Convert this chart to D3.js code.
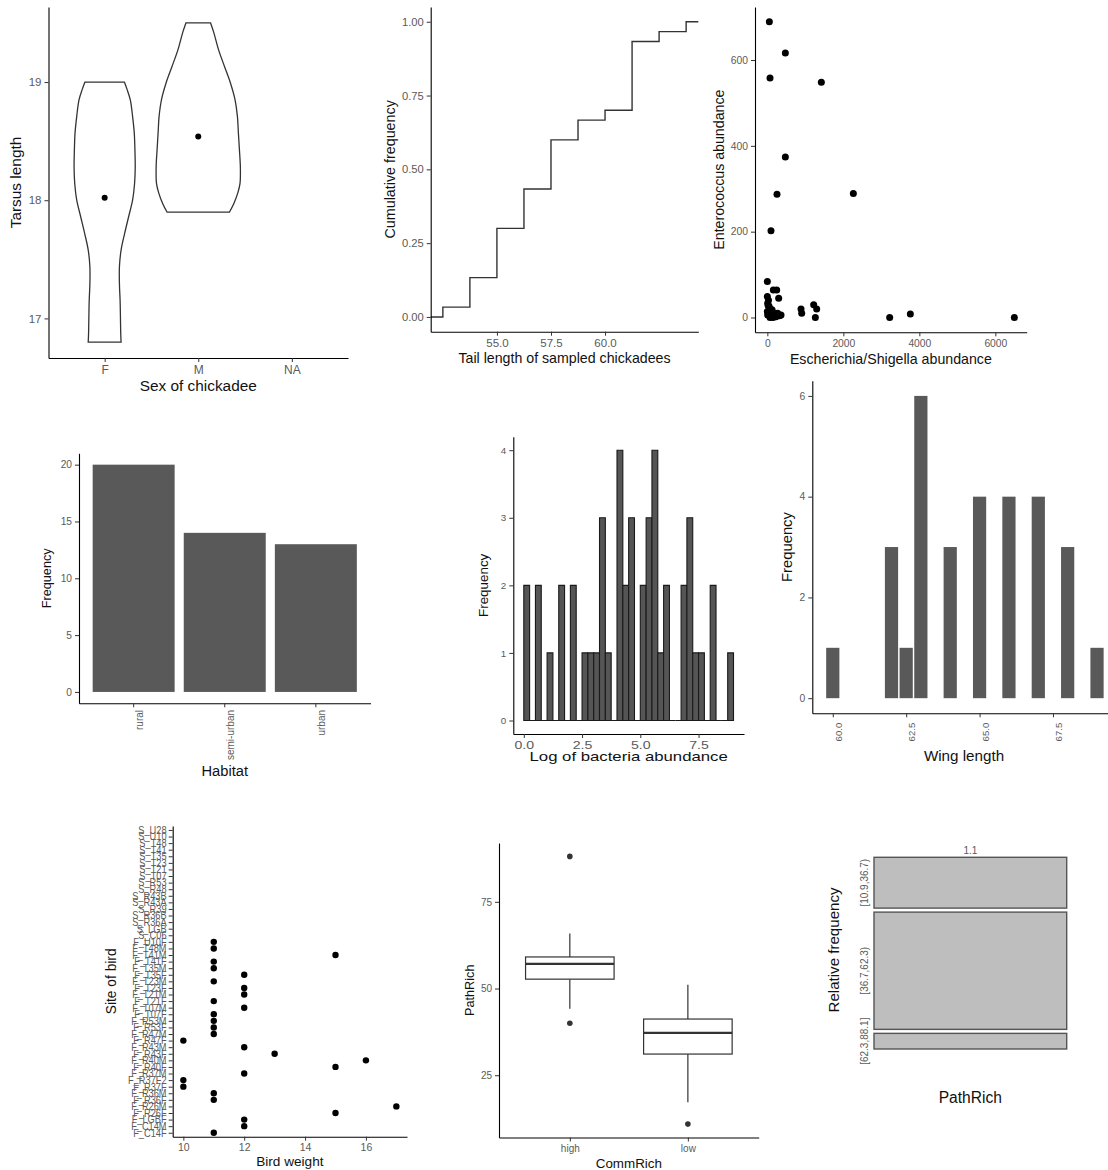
<!DOCTYPE html>
<html>
<head>
<meta charset="utf-8">
<script src="https://cdn.jsdelivr.net/npm/d3@7"></script>
<style>
  body { margin: 0; background: #fff; }
  svg { display: block; font-family: "Liberation Sans", Arial, Helvetica, sans-serif; }
  .axis path.domain { stroke: #000; stroke-width: 1.1; }
  .axis line { stroke: #333; stroke-width: 1; }
  .axis text { fill: #5a5a5a; }
  .title { fill: #111; }
</style>
</head>
<body>
<script>
// ---------- Tarsus length by sex (violin + mean) ----------
const sexLevels = ["F", "M", "NA"];
// [tarsus length, relative density]
const tarsusDensityF = [[16.80,0.39],[16.87,0.382],[17.01,0.375],[17.15,0.367],[17.29,0.351],[17.44,0.351],[17.58,0.391],[17.72,0.475],[17.86,0.569],[18.00,0.663],[18.14,0.710],[18.28,0.726],[18.42,0.719],[18.57,0.703],[18.71,0.663],[18.85,0.609],[18.94,0.53],[19.00,0.468]];
const tarsusDensityM = [[17.90,0.742],[17.97,0.843],[18.06,0.937],[18.14,0.991],[18.28,1.0],[18.43,0.977],[18.57,0.953],[18.71,0.930],[18.85,0.874],[18.99,0.766],[19.13,0.625],[19.27,0.485],[19.42,0.368],[19.50,0.293]];
const tarsusMean = [18.02, 18.54];

// ---------- Tail length ECDF ----------
const tailLength = [52.5, 53.75, 55, 56.25, 57.5, 58.75, 60, 61.25, 62.5, 63.75];
const tailCount  = [1, 3, 5, 4, 5, 2, 1, 7, 1, 1];

// ---------- Escherichia/Shigella vs Enterococcus ----------
const escherichia  = [53, 474, 70, 1421, 474, 254, 2263, 96, 0, 158, 246, 298, 0, 9, 53, 96, 184, 9, 360, 228, 70, 0, 123, 316, 30, 140, 200, 886, 904, 1219, 1298, 1263, 3219, 3763, 6500, 20, 60, 110, 150, 45, 270, 330];
const enterococcus = [689, 616, 558, 548, 374, 287, 289, 202, 84, 64, 64, 45, 49, 33, 22, 10, 6, 6, 6, 2, 0, 14, 18, 4, 40, 12, 8, 20, 10, 30, 20, 0, 0, 8, 0, 28, 4, 2, 0, 26, 10, 5];

// ---------- Habitat counts ----------
const habitats = ["rural", "semi-urban", "urban"];
const habitatCount = [20, 14, 13];

// ---------- Log bacteria abundance histogram (bin width 0.25 from 0) ----------
const logBinWidth = 0.25;
const logBinCount = [2,0,2,0,1,0,2,0,2,0,1,1,1,3,1,0,4,2,3,0,2,3,4,1,2,0,0,2,3,1,1,0,2,0,0,1];

// ---------- Wing length counts ----------
const wingLength = [60, 62, 62.5, 63, 64, 65, 66, 67, 68, 69];
const wingCount  = [1, 3, 1, 6, 3, 4, 4, 4, 3, 1];

// ---------- Bird weight by site ----------
const sites = ["F_C14F","F_C14M","F_LGBF","F_R26F","F_R26M","F_R36F","F_R36M","F_R37F","F_R37F2","F_R37M",
  "F_R40F","F_R40M","F_R43F","F_R43M","F_R47F","F_R47M","F_R53F","F_R53M","F_T07F","F_T07M",
  "F_T21F","F_T21M","F_T23F","F_T23M","F_T35F","F_T35M","F_T41F","F_T41M","F_T48M","F_U10F",
  "S_C06","S_LGB","S_R36A","S_R36B","S_R39","S_R43A","S_R43B","S_R48","S_R53","S_T07",
  "S_T21","S_T23","S_T35","S_T41","S_T48","S_U10","S_U28"];
const birdWeight = [11,12,12,15,17,11,11,10,10,12,15,16,13,12,10,11,11,11,11,12,11,12,12,11,12,11,11,15,11,11];

// ---------- PathRich by CommRich (boxplot stats) ----------
const commRich = ["high", "low"];
const pathQ1 = [52.7, 31.1];
const pathMedian = [57.1, 37.2];
const pathQ3 = [59.1, 41.2];
const pathWhiskerLo = [44.2, 17.2];
const pathWhiskerHi = [65.9, 51.1];
const pathOutliers = [[88.1, 40.0], [10.9]];

// ---------- PathRich class frequencies ----------
const pathRichBins = ["[10.9,36.7)", "[36.7,62.3)", "[62.3,88.1]"];
const pathRichCount = [13, 30, 4];

// =====================================================
const W = 1108, H = 1170;
const svg = d3.select("body").append("svg").attr("width", W).attr("height", H);

const expand = (ext, m = 0.05) => { const d = (ext[1] - ext[0]) * m; return [ext[0] - d, ext[1] + d]; };

function axisLeft(x0, scale, ticks, size, fmt) {
  const a = d3.axisLeft(scale).tickSize(4).tickPadding(3).tickSizeOuter(0);
  if (ticks) a.tickValues(ticks);
  if (fmt) a.tickFormat(fmt);
  const g = svg.append("g").attr("class", "axis").attr("transform", `translate(${x0},0)`).call(a);
  g.attr("font-family", null).attr("font-size", size);
  return g;
}
function axisBottom(y0, scale, ticks, size, fmt) {
  const a = d3.axisBottom(scale).tickSize(4).tickPadding(3).tickSizeOuter(0);
  if (ticks) a.tickValues(ticks);
  if (fmt) a.tickFormat(fmt);
  const g = svg.append("g").attr("class", "axis").attr("transform", `translate(0,${y0})`).call(a);
  g.attr("font-family", null).attr("font-size", size);
  return g;
}
function hTitle(text, x, y, size, sx = 1) {
  svg.append("text").attr("class", "title")
    .attr("transform", `translate(${x},${y}) scale(${sx},1)`)
    .attr("text-anchor", "middle").attr("font-size", size).text(text);
}
function vTitle(text, x, y, size) {
  svg.append("text").attr("class", "title")
    .attr("transform", `translate(${x},${y}) rotate(-90)`)
    .attr("text-anchor", "middle").attr("font-size", size).text(text);
}

// ---------- Panel: violin ----------
{
  const p = { l: 48.5, r: 348, t: 7, b: 358 };
  const x = d3.scalePoint().domain(sexLevels).range([p.l, p.r]).padding(0.6);
  const allV = tarsusDensityF.concat(tarsusDensityM).map(d => d[0]);
  const y = d3.scaleLinear().domain(expand(d3.extent(allV))).range([p.b, p.t]);
  const w = d3.scaleLinear().domain([0, 1]).range([0, 0.45 * x.step()]);
  [tarsusDensityF, tarsusDensityM].forEach((dens, i) => {
    const cx = x(sexLevels[i]);
    const area = d3.area().curve(d3.curveCatmullRom)
      .y(d => y(d[0])).x0(d => cx - w(d[1])).x1(d => cx + w(d[1]));
    svg.append("path").attr("d", area(dens)).attr("fill", "#fff")
      .attr("stroke", "#333").attr("stroke-width", 1.3);
    svg.append("circle").attr("cx", cx).attr("cy", y(tarsusMean[i])).attr("r", 3).attr("fill", "#000");
  });
  axisLeft(p.l, y, [17, 18, 19], 11.5, d3.format("d"));
  axisBottom(p.b, x, null, 12);
  vTitle("Tarsus length", 21.3, (p.t + p.b) / 2, 15.4);
  hTitle("Sex of chickadee", (p.l + p.r) / 2, 391, 15.4);
}

// ---------- Panel: ECDF ----------
{
  const p = { l: 430.7, r: 698.3, t: 7, b: 331.7 };
  const x = d3.scaleLinear().domain(expand(d3.extent(tailLength))).range([p.l, p.r]);
  const y = d3.scaleLinear().domain(expand([0, 1])).range([p.b, p.t]);
  const cum = Array.from(d3.cumsum(tailCount));
  const n = cum[cum.length - 1];
  const pts = [[x.domain()[0], 0]].concat(tailLength.map((v, i) => [v, cum[i] / n]), [[x.domain()[1], 1]]);
  const line = d3.line().curve(d3.curveStepAfter).x(d => x(d[0])).y(d => y(d[1]));
  svg.append("path").attr("d", line(pts)).attr("fill", "none").attr("stroke", "#333").attr("stroke-width", 1.4);
  axisLeft(p.l, y, [0, 0.25, 0.5, 0.75, 1], 11.2, d3.format(".2f"));
  axisBottom(p.b, x, [55, 57.5, 60], 11.5, d3.format(".1f"));
  vTitle("Cumulative frequency", 395.3, (p.t + p.b) / 2, 14.3);
  hTitle("Tail length of sampled chickadees", (p.l + p.r) / 2, 362.5, 14.2);
}

// ---------- Panel: scatter ----------
{
  const p = { l: 755, r: 1026.7, t: 7, b: 332.3 };
  const x = d3.scaleLinear().domain(expand(d3.extent(escherichia))).range([p.l, p.r]);
  const y = d3.scaleLinear().domain(expand(d3.extent(enterococcus))).range([p.b, p.t]);
  svg.append("g").selectAll("circle").data(escherichia).join("circle")
    .attr("cx", d => x(d)).attr("cy", (d, i) => y(enterococcus[i])).attr("r", 3.5).attr("fill", "#000");
  axisLeft(p.l, y, [0, 200, 400, 600], 10.3, d3.format("d"));
  axisBottom(p.b, x, [0, 2000, 4000, 6000], 10.3, d3.format("d"));
  vTitle("Enterococcus abundance", 723.5, (p.t + p.b) / 2, 14.2);
  hTitle("Escherichia/Shigella abundance", (p.l + p.r) / 2, 364, 14.2);
}

// ---------- Panel: habitat bars ----------
{
  const p = { l: 79, r: 370.5, t: 453.3, b: 703.3 };
  const x = d3.scaleBand().domain(habitats).range([p.l, p.r]).paddingInner(0.1).paddingOuter(0.15);
  const y = d3.scaleLinear().domain(expand([0, d3.max(habitatCount)])).range([p.b, p.t]);
  svg.append("g").selectAll("rect").data(habitats).join("rect")
    .attr("x", d => x(d)).attr("width", x.bandwidth())
    .attr("y", (d, i) => y(habitatCount[i])).attr("height", (d, i) => y(0) - y(habitatCount[i]))
    .attr("fill", "#595959");
  axisLeft(p.l, y, [0, 5, 10, 15, 20], 10.2, d3.format("d"));
  const gx = axisBottom(p.b, x, null, 10);
  gx.selectAll("text").attr("transform", "rotate(-90)").attr("text-anchor", "end")
    .attr("x", -6.7).attr("y", 9).attr("dy", null);
  vTitle("Frequency", 50.8, (p.t + p.b) / 2, 12.7);
  hTitle("Habitat", (p.l + p.r) / 2, 775.5, 14.7);
}

// ---------- Panel: log abundance histogram ----------
{
  const p = { l: 513.3, r: 744, t: 436.7, b: 734 };
  const bins = logBinCount.map((c, i) => ({ x0: i * logBinWidth, x1: (i + 1) * logBinWidth, c }));
  const x = d3.scaleLinear().domain(expand([0, bins[bins.length - 1].x1])).range([p.l, p.r]);
  const y = d3.scaleLinear().domain(expand([0, d3.max(logBinCount)])).range([p.b, p.t]);
  svg.append("g").selectAll("path").data(bins).join("path")
    .attr("d", d => `M${x(d.x0)},${y(0)}V${y(d.c)}H${x(d.x1)}V${y(0)}Z`)
    .attr("fill", "#555").attr("stroke", "#1a1a1a").attr("stroke-width", 1.1);
  axisLeft(p.l, y, [0, 1, 2, 3, 4], 9.8, d3.format("d"));
  const gx = axisBottom(p.b, x, [0, 2.5, 5, 7.5], 11.3, d3.format(".1f"));
  gx.selectAll("text").attr("transform", "scale(1.25,1)");
  vTitle("Frequency", 487.9, (p.t + p.b) / 2, 13.4);
  hTitle("Log of bacteria abundance", (p.l + p.r) / 2, 761.3, 13.4, 1.25);
}

// ---------- Panel: wing length bars ----------
{
  const p = { l: 812.3, r: 1117.5, t: 380.8, b: 713.3 };
  const half = 0.45 / 2;
  const x = d3.scaleLinear().domain(expand([d3.min(wingLength) - half, d3.max(wingLength) + half])).range([p.l, p.r]);
  const y = d3.scaleLinear().domain(expand([0, d3.max(wingCount)])).range([p.b, p.t]);
  svg.append("g").selectAll("rect").data(wingLength).join("rect")
    .attr("x", d => x(d - half)).attr("width", d => x(d + half) - x(d - half))
    .attr("y", (d, i) => y(wingCount[i])).attr("height", (d, i) => y(0) - y(wingCount[i]))
    .attr("fill", "#595959");
  axisLeft(p.l, y, [0, 2, 4, 6], 10.3, d3.format("d"));
  const gx = axisBottom(p.b, x, [60, 62.5, 65, 67.5], 9.6, d3.format(".1f"));
  gx.selectAll("text").attr("transform", "rotate(-90)").attr("text-anchor", "end")
    .attr("x", -9.4).attr("y", 8.6).attr("dy", null);
  vTitle("Frequency", 792.3, (p.t + p.b) / 2, 14.8);
  hTitle("Wing length", 964, 760.9, 15.2);
}

// ---------- Panel: bird weight by site ----------
{
  const p = { l: 172.7, r: 407, t: 826, b: 1136.7 };
  const x = d3.scaleLinear().domain(expand(d3.extent(birdWeight))).range([p.l, p.r]);
  const y = d3.scalePoint().domain(sites).range([p.b, p.t]).padding(0.6);
  svg.append("g").selectAll("circle").data(birdWeight).join("circle")
    .attr("cx", d => x(d)).attr("cy", (d, i) => y(sites[i])).attr("r", 3.2).attr("fill", "#000");
  const gy = axisLeft(p.l, y, null, 10.5);
  gy.selectAll("text").attr("transform", "scale(0.88,1)");
  axisBottom(p.b, x, [10, 12, 14, 16], 10.5, d3.format("d"));
  vTitle("Site of bird", 116.4, (p.t + p.b) / 2, 13.8);
  hTitle("Bird weight", (p.l + p.r) / 2, 1165.7, 13.6);
}

// ---------- Panel: boxplot ----------
{
  const p = { l: 499, r: 758.7, t: 843, b: 1137.5 };
  const x = d3.scalePoint().domain(commRich).range([p.l, p.r]).padding(0.6);
  const allV = pathWhiskerLo.concat(pathWhiskerHi, pathOutliers.flat());
  const y = d3.scaleLinear().domain(expand(d3.extent(allV))).range([p.b, p.t]);
  const bw = 0.75 * x.step();
  commRich.forEach((c, i) => {
    const cx = x(c);
    const g = svg.append("g");
    g.append("line").attr("x1", cx).attr("x2", cx).attr("y1", y(pathQ3[i])).attr("y2", y(pathWhiskerHi[i]))
      .attr("stroke", "#333").attr("stroke-width", 1.2);
    g.append("line").attr("x1", cx).attr("x2", cx).attr("y1", y(pathQ1[i])).attr("y2", y(pathWhiskerLo[i]))
      .attr("stroke", "#333").attr("stroke-width", 1.2);
    g.append("rect").attr("x", cx - bw / 2).attr("width", bw)
      .attr("y", y(pathQ3[i])).attr("height", y(pathQ1[i]) - y(pathQ3[i]))
      .attr("fill", "#fff").attr("stroke", "#333").attr("stroke-width", 1.2);
    g.append("line").attr("x1", cx - bw / 2).attr("x2", cx + bw / 2)
      .attr("y1", y(pathMedian[i])).attr("y2", y(pathMedian[i]))
      .attr("stroke", "#333").attr("stroke-width", 2.2);
    g.selectAll("circle").data(pathOutliers[i]).join("circle")
      .attr("cx", cx).attr("cy", d => y(d)).attr("r", 2.8).attr("fill", "#333");
  });
  axisLeft(p.l, y, [25, 50, 75], 10, d3.format("d"));
  axisBottom(p.b, x, null, 10);
  vTitle("PathRich", 474.1, (p.t + p.b) / 2, 12.7);
  hTitle("CommRich", (p.l + p.r) / 2, 1167.9, 13.4);
}

// ---------- Panel: PathRich relative frequency ----------
{
  const p = { l: 874, r: 1066.7, t: 857.3, b: 1049 };
  const gap = 4;
  const total = d3.sum(pathRichCount);
  const h = d3.scaleLinear().domain([0, total]).range([0, (p.b - p.t) - gap * (pathRichCount.length - 1)]);
  const before = [0].concat(Array.from(d3.cumsum(pathRichCount)).slice(0, -1));
  const g = svg.append("g");
  pathRichBins.forEach((lab, i) => {
    const y0 = p.t + h(before[i]) + i * gap;
    const hh = h(pathRichCount[i]);
    g.append("rect").attr("x", p.l).attr("y", y0).attr("width", p.r - p.l).attr("height", hh)
      .attr("fill", "#bebebe").attr("stroke", "#555").attr("stroke-width", 1.4);
    g.append("text").attr("transform", `translate(868,${y0 + hh / 2}) rotate(-90)`)
      .attr("text-anchor", "middle").attr("font-size", 10).attr("fill", "#5a5a5a").text(lab);
  });
  g.append("text").attr("x", (p.l + p.r) / 2).attr("y", 854).attr("text-anchor", "middle")
    .attr("font-size", 10).attr("fill", "#5a5a5a").text("1.1");
  vTitle("Relative frequency", 839.1, 950, 15.1);
  hTitle("PathRich", (p.l + p.r) / 2, 1102.9, 15.6);
}
</script>
</body>
</html>
